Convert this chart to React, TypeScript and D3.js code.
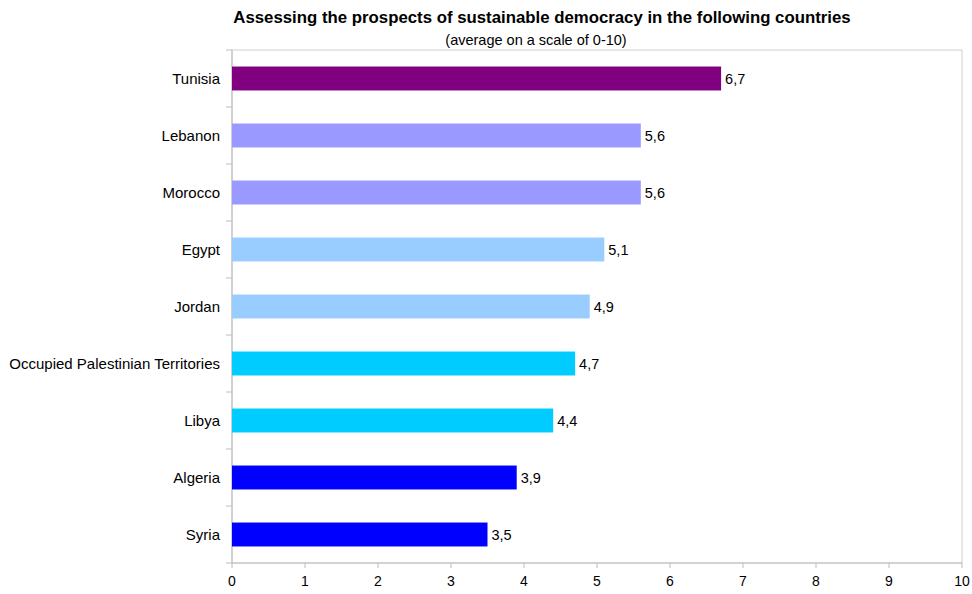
import React from "react";
import * as d3 from "d3";

const countries = ["Tunisia", "Lebanon", "Morocco", "Egypt", "Jordan", "Occupied Palestinian Territories", "Libya", "Algeria", "Syria"];
const values = [6.7, 5.6, 5.6, 5.1, 4.9, 4.7, 4.4, 3.9, 3.5];
const colors = ["#800080", "#9999FF", "#9999FF", "#99CCFF", "#99CCFF", "#00CCFF", "#00CCFF", "#0000FF", "#0000FF"];
const xTicks = [0, 1, 2, 3, 4, 5, 6, 7, 8, 9, 10];

const W = 972, H = 594;
const left = 232, right = 962, top = 50, bottom = 563;

export default function App() {
  const x = d3.scaleLinear().domain([0, 10]).range([left, right]);
  const y = d3.scaleBand().domain(countries).range([top, bottom]).paddingInner(0.58).paddingOuter(0.29);
  const font = "'Liberation Sans', Arial, sans-serif";
  const boundaries = d3.range(countries.length + 1).map(i => top + i * (bottom - top) / countries.length);
  return (
    <svg width={W} height={H} style={{ position: "absolute", left: 0, top: 0, background: "#fff" }}>
      <text x={542} y={23} textAnchor="middle" fontFamily={font} fontWeight="bold" fontSize={16.8} fill="#000">
        Assessing the prospects of sustainable democracy in the following countries
      </text>
      <text x={536} y={45} textAnchor="middle" fontFamily={font} fontSize={14.5} fill="#000">
        (average on a scale of  0-10)
      </text>
      <rect x={left} y={top} width={right - left} height={bottom - top} fill="none" stroke="#d0d0d0" strokeWidth={1} />
      <line x1={left} x2={left} y1={top} y2={bottom} stroke="#bdbdbd" />
      <line x1={left} x2={right} y1={bottom} y2={bottom} stroke="#bdbdbd" />
      {boundaries.map((b, i) => (
        <line key={"yt" + i} x1={left - 6} x2={left} y1={b} y2={b} stroke="#bdbdbd" />
      ))}
      {xTicks.map(t => (
        <g key={"xt" + t}>
          <line x1={x(t)} x2={x(t)} y1={bottom} y2={bottom + 5} stroke="#bdbdbd" />
          <text x={x(t)} y={bottom + 23} textAnchor="middle" fontFamily={font} fontSize={14} fill="#000">{t}</text>
        </g>
      ))}
      {countries.map((c, i) => {
        const yy = y(c)!;
        return (
          <g key={c}>
            <rect x={x(0)} y={yy} width={x(values[i]) - x(0)} height={y.bandwidth()} fill={colors[i]} />
            <text x={x(values[i]) + 4} y={yy + y.bandwidth() / 2 + 5} fontFamily={font} fontSize={14.5} fill="#000">
              {String(values[i]).replace(".", ",")}
            </text>
            <text x={left - 12} y={yy + y.bandwidth() / 2 + 5} textAnchor="end" fontFamily={font} fontSize={15} fill="#000">{c}</text>
          </g>
        );
      })}
    </svg>
  );
}
